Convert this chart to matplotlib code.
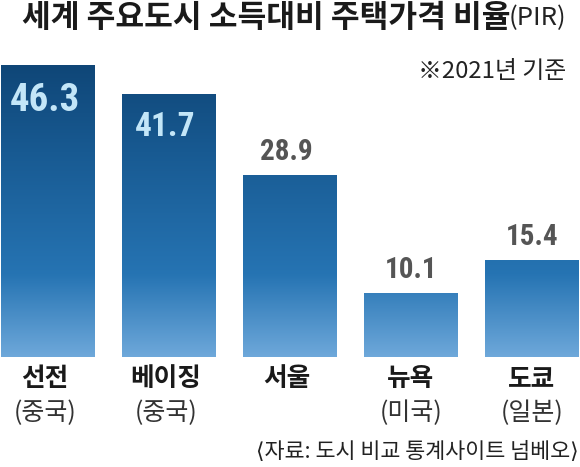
import numpy as np
import matplotlib
matplotlib.use('Agg')
import matplotlib.pyplot as plt
from matplotlib.colors import LinearSegmentedColormap

plt.rcParams['font.family'] = ['Noto Sans CJK KR', 'DejaVu Sans']

cities = ['선전', '베이징', '서울', '뉴욕', '도쿄']
countries = ['(중국)', '(중국)', '', '(미국)', '(일본)']
values = [46.3, 41.7, 28.9, 10.1, 15.4]
value_labels = ['46.3', '41.7', '28.9', '10.1', '15.4']

W, H = 580, 467
px_per_unit = 6.31
spacing = 121.0
base_y = 357.0
num_font = 'Roboto Condensed'

fig = plt.figure(figsize=(W / 100, H / 100), dpi=100)
ax = fig.add_axes([0, 0, 1, 1])
ax.axis('off')

cmap = LinearSegmentedColormap.from_list('pir', [
    (0.0, '#0f4677'), (0.3, '#185a92'), (0.72, '#2674b3'), (1.0, '#6ea8da')])
grad = np.linspace(0, 1, 256).reshape(-1, 1)

x = np.arange(len(cities))
bars = ax.bar(x, values, width=94 / spacing, color='none', linewidth=0)
for b in bars:
    # same gradient for all bars, clipped to each one
    im = ax.imshow(grad, cmap=cmap, aspect='auto', extent=[x[0] - 1, x[-1] + 1, 0, max(values)],
                   zorder=2)
    im.set_clip_path(b)
ax.set_xlim(-48 / spacing, (W - 48) / spacing)
ax.set_ylim(-(H - base_y) / px_per_unit, base_y / px_per_unit)


def py(y):
    # image pixel row to figure coord
    return 1 - y / H


# value labels, first three sit a bit left of bar center
for i, (v, lab) in enumerate(zip(values, value_labels)):
    xpos = i - (3.5 / spacing if i < 3 else 0)
    if i == 0:
        ax.text(xpos, v - 5.7, lab, ha='center', va='center', family=num_font, weight='bold',
                fontsize=28, color='#c3e6f8', zorder=3)
    elif i == 1:
        ax.text(xpos, v - 5.2, lab, ha='center', va='center', family=num_font, weight='bold',
                fontsize=24, color='#c3e6f8', zorder=3)
    else:
        ax.text(xpos, v + 3.65, lab, ha='center', va='center', family=num_font, weight='bold',
                fontsize=21, color='#555555', zorder=3)

# category labels
for i, (c, n) in enumerate(zip(cities, countries)):
    shift = -3 if i < 3 else 0
    fig.text((48 + i * spacing + shift) / W, py(379), c, ha='center', va='center', fontsize=18.5,
             weight='bold', color='#1a1a1a')
    if n:
        fig.text((48 + i * spacing + shift) / W, py(413), n, ha='center', va='center', fontsize=18,
                 color='#333333')

fig.text(22 / W, py(18), '세계 주요도시 소득대비 주택가격 비율', ha='left', va='center', fontsize=22.5,
         weight='bold', color='#1a1a1a')
fig.text(566 / W, py(18), '(PIR)', ha='right', va='center', fontsize=18.5, color='#222222')
fig.text(566 / W, py(72), '※2021년 기준', ha='right', va='center', fontsize=17.2, color='#222222')
fig.text(579 / W, py(452), '⟨자료: 도시 비교 통계사이트 넘베오⟩', ha='right', va='center', fontsize=15.7,
         color='#222222')

fig.savefig('out.png', dpi=100)
